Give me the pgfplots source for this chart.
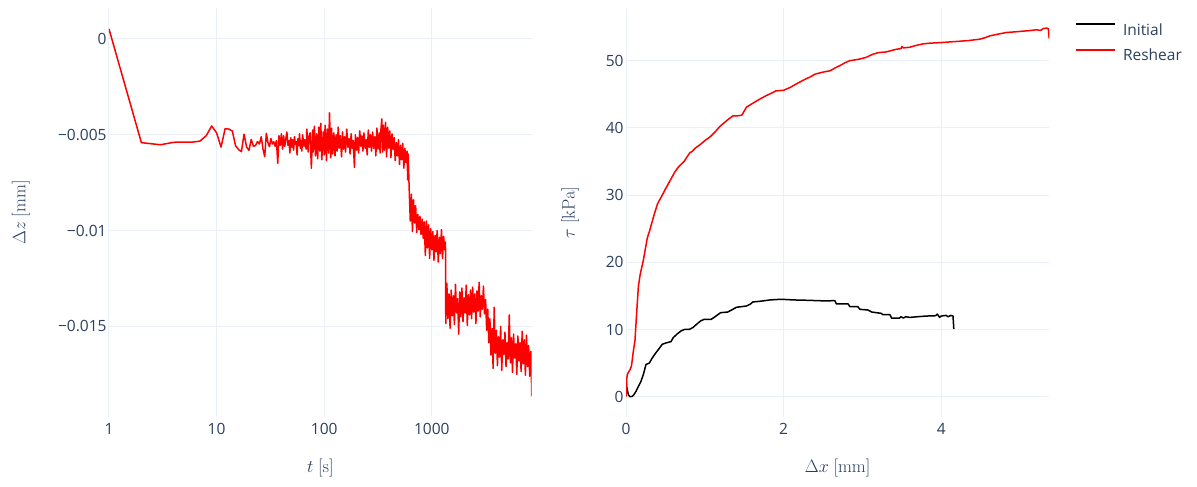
\RequirePackage{fix-cm}
\documentclass[border=0pt]{standalone}
\usepackage[no-math]{fontspec}
\setmainfont{Open Sans}
\usepackage{pgfplots}
\usepackage{pgfplotstable}
\pgfplotsset{compat=1.18}
\definecolor{plgrid}{HTML}{EBF0F8}
\definecolor{pltext}{HTML}{2A3F5F}
\definecolor{plred}{HTML}{FF0000}

\pgfplotstableread{
t z
1 0.00052
2 -0.00541
3 -0.00552
4 -0.00539
5 -0.00538
6 -0.00538
7 -0.00533
8 -0.00505
9 -0.00454
10 -0.00490
11 -0.00564
12 -0.00468
13 -0.00470
14 -0.00480
15 -0.00557
16 -0.00577
17 -0.00588
18 -0.00497
19 -0.00564
20 -0.00581
21 -0.00524
22 -0.00560
23 -0.00556
24 -0.00535
25 -0.00548
26 -0.00510
27 -0.00575
28 -0.00614
29 -0.00492
30 -0.00540
31 -0.00562
32 -0.00520
33 -0.00548
34 -0.00536
35 -0.00560
36 -0.00530
37 -0.00649
38 -0.00505
39 -0.00555
40 -0.00495
41 -0.00575
42 -0.00505
43 -0.00560
44 -0.00520
45 -0.00485
46 -0.00555
47 -0.00530
48 -0.00595
49 -0.00515
50 -0.00565
51 -0.00525
52 -0.00580
53 -0.00510
54 -0.00550
55 -0.00535
56 -0.00605
57 -0.00520
58 -0.00555
59 -0.00495
60 -0.00570
61 -0.00530
62 -0.00585
63 -0.00500
65 -0.00560
66 -0.00525
68 -0.00575
69 -0.00470
71 -0.00590
72 -0.00510
74 -0.00490
76 -0.00675
78 -0.00475
79 -0.00590
81 -0.00455
83 -0.00610
85 -0.00495
87 -0.00625
89 -0.00460
91 -0.00585
93 -0.00440
95 -0.00630
98 -0.00485
100 -0.00605
102 -0.00450
105 -0.00635
107 -0.00470
110 -0.00595
112 -0.00385
115 -0.00620
117 -0.00465
120 -0.00600
123 -0.00490
126 -0.00610
129 -0.00500
132 -0.00585
135 -0.00460
138 -0.00570
141 -0.00505
145 -0.00615
148 -0.00485
151 -0.00575
155 -0.00510
158 -0.00590
162 -0.00470
166 -0.00565
170 -0.00520
174 -0.00600
178 -0.00495
182 -0.00570
186 -0.00530
191 -0.00670
195 -0.00500
200 -0.00580
204 -0.00515
209 -0.00595
214 -0.00480
219 -0.00560
224 -0.00505
229 -0.00585
234 -0.00490
240 -0.00570
245 -0.00525
251 -0.00605
257 -0.00475
263 -0.00565
269 -0.00500
275 -0.00585
282 -0.00485
288 -0.00570
295 -0.00510
302 -0.00610
309 -0.00465
316 -0.00575
324 -0.00490
331 -0.00595
337 -0.00470
343 -0.00417
349 -0.00590
355 -0.00450
363 -0.00580
372 -0.00435
380 -0.00615
389 -0.00460
398 -0.00570
407 -0.00480
417 -0.00620
427 -0.00495
437 -0.00575
447 -0.00515
457 -0.00635
468 -0.00540
479 -0.00610
490 -0.00525
501 -0.00655
513 -0.00555
525 -0.00630
537 -0.00545
550 -0.00675
562 -0.00570
575 -0.00645
589 -0.00585
597 -0.00735
603 -0.00600
617 -0.00790
631 -0.00950
646 -0.00810
661 -0.01005
676 -0.00840
692 -0.00960
708 -0.00870
724 -0.01010
741 -0.00915
759 -0.00995
776 -0.00925
794 -0.01020
813 -0.00940
832 -0.01040
851 -0.00955
871 -0.01130
891 -0.00950
912 -0.01090
933 -0.00970
955 -0.01145
977 -0.00990
1000 -0.01100
1023 -0.01005
1047 -0.01155
1072 -0.01025
1096 -0.01110
1122 -0.01000
1148 -0.01165
1175 -0.01035
1202 -0.01120
1230 -0.00995
1259 -0.01145
1288 -0.01030
1318 -0.01100
1340 -0.01060
1349 -0.01485
1380 -0.01275
1413 -0.01460
1445 -0.01330
1479 -0.01510
1514 -0.01310
1549 -0.01445
1585 -0.01340
1622 -0.01490
1660 -0.01280
1698 -0.01430
1738 -0.01355
1778 -0.01540
1820 -0.01320
1862 -0.01450
1905 -0.01300
1950 -0.01475
1995 -0.01350
2042 -0.01430
2089 -0.01285
2138 -0.01495
2188 -0.01335
2239 -0.01440
2291 -0.01310
2344 -0.01460
2399 -0.01295
2455 -0.01425
2512 -0.01330
2570 -0.01485
2630 -0.01315
2692 -0.01420
2754 -0.01270
2818 -0.01450
2884 -0.01340
2951 -0.01410
3020 -0.01290
3090 -0.01435
3162 -0.01360
3236 -0.01520
3311 -0.01410
3388 -0.01585
3467 -0.01460
3548 -0.01650
3631 -0.01510
3715 -0.01720
3802 -0.01400
3890 -0.01640
3981 -0.01520
4074 -0.01705
4169 -0.01555
4266 -0.01660
4365 -0.01500
4467 -0.01730
4571 -0.01570
4677 -0.01645
4786 -0.01530
4898 -0.01710
5012 -0.01585
5129 -0.01670
5248 -0.01440
5370 -0.01690
5495 -0.01560
5623 -0.01740
5754 -0.01540
5888 -0.01665
6026 -0.01590
6166 -0.01750
6310 -0.01550
6457 -0.01680
6607 -0.01585
6761 -0.01735
6918 -0.01525
7079 -0.01695
7244 -0.01570
7413 -0.01755
7586 -0.01545
7762 -0.01710
7943 -0.01600
8128 -0.01760
8318 -0.01630
8400 -0.01700
8480 -0.01865
}\leftdata

\pgfplotsset{
  plotlyaxis/.style={
    scale only axis,
    anchor=south west,
    axis line style={draw=none},
    tick style={draw=none},
    grid=major,
    major grid style={plgrid, line width=1pt},
    tick label style={font=\fontsize{15.5}{18}\selectfont, text=pltext},
    xticklabel style={anchor=north, inner sep=0pt, yshift=-6.5pt},
    yticklabel style={anchor=east, inner sep=0pt, xshift=-2.3pt},
    label style={font=\fontsize{18}{20}\selectfont, text=pltext},
    scaled y ticks=false,
    scaled x ticks=false,
  }
}

\begin{document}
\begin{tikzpicture}
\path[use as bounding box] (0pt,0pt) rectangle (1197pt,487pt);

\begin{axis}[plotlyaxis,
  at={(109pt,70pt)},
  width=422.7pt, height=409pt,
  xmode=log, log basis x=10,
  xmin=1, xmax=8482,
  ymin=-0.019728, ymax=0.001618,
  xtick={1,10,100,1000}, xticklabels={1,10,100,1000},
  minor xtick={},
  ytick={-0.015,-0.01,-0.005,0},
  yticklabels={−0.015,−0.01,−0.005,0},
  extra y ticks={0}, extra y tick labels={},
  extra y tick style={grid style={plgrid, line width=2pt}},
  xlabel={$t\ [\mathrm{s}]$},
  ylabel={$\Delta z\ [\mathrm{mm}]$},
  xlabel style={at={(axis description cs:0.5,-0.1247)}, anchor=center},
  ylabel style={at={(axis description cs:-0.2082,0.5)}, anchor=center},
]
\addplot[plred, line width=1.5pt, line join=round] table[x=t, y=z] {\leftdata};
\end{axis}

\begin{axis}[plotlyaxis,
  at={(626pt,70pt)},
  width=423.3pt, height=409pt,
  xmin=0, xmax=5.372,
  ymin=-3.02, ymax=57.84,
  xtick={0,2,4}, xticklabels={0,2,4},
  ytick={0,10,20,30,40,50}, yticklabels={0,10,20,30,40,50},
  extra y ticks={0}, extra y tick labels={},
  extra y tick style={grid style={plgrid, line width=2pt}},
  extra x ticks={0}, extra x tick labels={},
  extra x tick style={grid style={plgrid, line width=2pt}},
  xlabel={$\Delta x\ [\mathrm{mm}]$},
  ylabel={$\tau\ [\mathrm{kPa}]$},
  xlabel style={at={(axis description cs:0.5,-0.1247)}, anchor=center},
  ylabel style={at={(axis description cs:-0.1323,0.5)}, anchor=center},
  legend cell align=left,
  legend image code/.code={\draw[#1, line width=1.5pt] (0pt,5.5pt) -- (39pt,5.5pt);},
  legend style={at={(axis description cs:1.0607,0.9626)}, anchor=north west,
    draw=none, fill=none, inner sep=0pt, outer sep=0pt,
    row sep=14pt, column sep=7.5pt,
    font=\fontsize{15.5}{18}\selectfont, text=pltext,
    nodes={inner sep=0pt, text height=11pt, text depth=0pt}},
]
\addplot[black, line width=1.5pt, line join=round] coordinates {
(0,2.7) (0.01,1.4) (0.03,0.3) (0.05,0.0) (0.08,0.05) (0.10,0.3) (0.127,0.8)
(0.16,1.6) (0.19,2.3) (0.22,3.3) (0.254,4.8) (0.296,5.0) (0.33,5.7) (0.359,6.2)
(0.39,6.7) (0.423,7.2) (0.46,7.8) (0.508,8.0) (0.571,8.2) (0.60,8.8) (0.656,9.4)
(0.70,9.8) (0.74,10.0) (0.80,10.0) (0.85,10.3) (0.888,10.7) (0.95,11.3) (0.99,11.5)
(1.08,11.5) (1.13,11.9) (1.2,12.5) (1.29,12.6) (1.34,12.9) (1.4,13.3) (1.53,13.5)
(1.58,13.8) (1.61,14.1) (1.70,14.2) (1.83,14.4) (1.97,14.5) (2.12,14.4) (2.29,14.35)
(2.54,14.25) (2.65,14.3) (2.67,13.8) (2.82,13.8) (2.84,13.4) (2.94,13.4) (2.97,13.0)
(3.07,12.9) (3.12,12.6) (3.24,12.4) (3.26,12.2) (3.35,12.2) (3.37,11.7) (3.47,11.7)
(3.49,11.9) (3.52,11.7) (3.55,11.9) (3.6,11.8) (3.7,11.9) (3.81,12.0) (3.93,12.05)
(3.95,12.3) (3.98,11.8) (4.0,12.0) (4.06,12.1) (4.09,11.9) (4.12,12.1) (4.15,12.0)
(4.16,10.1)
};
\addlegendentry{Initial}
\addplot[plred, line width=1.5pt, line join=round] coordinates {
(0,0) (0.005,1.5) (0.01,2.8) (0.02,3.4) (0.04,3.8) (0.05,4.0) (0.07,4.6) (0.09,6.5)
(0.114,8.4) (0.13,11.5) (0.157,16.4) (0.18,18.2) (0.22,20.3) (0.25,22.3) (0.27,23.6)
(0.30,24.7) (0.326,25.8) (0.36,27.2) (0.40,28.7) (0.432,29.4) (0.47,30.2) (0.50,30.9)
(0.538,31.7) (0.58,32.6) (0.623,33.5) (0.66,34.1) (0.70,34.6) (0.737,35.0) (0.77,35.6)
(0.81,36.3) (0.84,36.5) (0.88,37.0) (0.94,37.5) (1.0,38.1) (1.07,38.7) (1.13,39.4)
(1.19,40.2) (1.25,40.8) (1.30,41.3) (1.36,41.8) (1.42,41.8) (1.47,41.9) (1.50,42.5)
(1.53,43.1) (1.60,43.6) (1.70,44.3) (1.78,44.8) (1.87,45.3) (1.90,45.5) (2.0,45.6)
(2.08,46.0) (2.17,46.6) (2.25,47.1) (2.34,47.6) (2.40,48.0) (2.50,48.3) (2.59,48.5)
(2.65,48.9) (2.72,49.3) (2.78,49.7) (2.84,50.0) (2.95,50.2) (3.05,50.5) (3.12,50.9)
(3.20,51.2) (3.30,51.3) (3.43,51.7) (3.49,51.8) (3.50,52.1) (3.52,51.9) (3.60,52.0)
(3.66,52.2) (3.73,52.4) (3.77,52.5) (3.85,52.6) (4.0,52.7) (4.12,52.8) (4.24,52.9)
(4.35,53.0) (4.49,53.2) (4.55,53.4) (4.62,53.7) (4.70,53.9) (4.83,54.2) (4.95,54.3)
(5.04,54.4) (5.10,54.45) (5.21,54.6) (5.26,54.5) (5.30,54.8) (5.34,54.85) (5.36,54.75)
(5.37,53.3)
};
\addlegendentry{Reshear}
\end{axis}
\end{tikzpicture}
\end{document}
